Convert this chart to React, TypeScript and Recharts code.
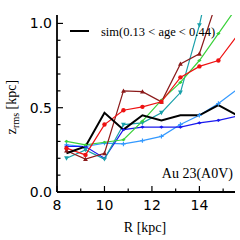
import { LineChart, Line, XAxis, YAxis } from "recharts";

// radial bins [kpc]
const radius = [8.4, 9.2, 10.0, 10.8, 11.6, 12.4, 13.2, 14.0, 14.8, 15.6];

// z_rms [kpc] per population
const simAll = [0.23, 0.27, 0.47, 0.37, 0.455, 0.425, 0.455, 0.455, 0.515, 0.455];
const popRed = [0.26, 0.22, 0.4, 0.485, 0.505, 0.535, 0.68, 0.745, 0.78, 0.93];
const popBrown = [0.245, 0.195, 0.23, 0.6, 0.595, 0.535, 0.76, 0.82, 1.16, 1.4];
const popGreen = [0.3, 0.28, 0.295, 0.31, 0.42, 0.545, 0.65, 0.78, 0.94, 1.1];
const popTeal = [0.2, 0.25, 0.195, 0.4, 0.41, 0.47, 0.59, 0.99, 1.5, 1.6];
const popSky = [0.28, 0.27, 0.29, 0.285, 0.305, 0.33, 0.4, 0.455, 0.525, 0.61];
const popBlue = [0.27, 0.27, 0.2, 0.37, 0.385, 0.385, 0.385, 0.41, 0.425, 0.45];

const xTicks = [8, 9, 10, 11, 12, 13, 14, 15];
const xMajor = [8, 10, 12, 14];
const yTicks = [0, 0.1, 0.2, 0.3, 0.4, 0.5, 0.6, 0.7, 0.8, 0.9, 1.0];
const yMajor = [0, 0.5, 1.0];

const data = radius.map((r, i) => ({
  r,
  all: simAll[i],
  red: popRed[i],
  brown: popBrown[i],
  green: popGreen[i],
  teal: popTeal[i],
  sky: popSky[i],
  blue: popBlue[i],
}));

const tickFont = { fontFamily: "DejaVu Sans", fontSize: 14, fill: "#000" };
const serif = "Liberation Serif";

const isMajor = (v: number, list: number[]) =>
  list.some((m) => Math.abs(m - v) < 1e-6);

function makeTick(side: "bottom" | "left" | "top" | "right", label: boolean) {
  return (props: any) => {
    const { x, y, payload } = props;
    const v = payload.value;
    const major = isMajor(v, side === "bottom" || side === "top" ? xMajor : yMajor);
    const len = major ? 6 : 3.5;
    let line;
    if (side === "bottom") line = <line x1={x} y1={y} x2={x} y2={y - len} />;
    else if (side === "top") line = <line x1={x} y1={y} x2={x} y2={y + len} />;
    else if (side === "left") line = <line x1={x} y1={y} x2={x + len} y2={y} />;
    else line = <line x1={x} y1={y} x2={x - len} y2={y} />;
    return (
      <g stroke="#000" strokeWidth={1.2}>
        {line}
        {label && major && side === "bottom" && (
          <text x={x} y={y + 18} textAnchor="middle" stroke="none" {...tickFont}>
            {v}
          </text>
        )}
        {label && major && side === "left" && (
          <text
            x={x - 5}
            y={y + 5}
            textAnchor="end"
            stroke="none"
            {...tickFont}
          >
            {v.toFixed(1)}
          </text>
        )}
      </g>
    );
  };
}

const dotCircle = (color: string) => (p: any) => (
  <circle key={p.key} cx={p.cx} cy={p.cy} r={2.2} fill={color} stroke="none" />
);
const dotTri = (color: string, down: boolean) => (p: any) => {
  const s = 2.4;
  const d = down ? -1 : 1;
  return (
    <path
      key={p.key}
      d={`M${p.cx},${p.cy - d * s} L${p.cx + s},${p.cy + d * s * 0.8} L${p.cx - s},${p.cy + d * s * 0.8} Z`}
      fill={color}
      stroke="none"
    />
  );
};
const dotPlus = (color: string) => (p: any) => (
  <path
    key={p.key}
    d={`M${p.cx - 2.2},${p.cy} H${p.cx + 2.2} M${p.cx},${p.cy - 2.2} V${p.cy + 2.2}`}
    stroke={color}
    strokeWidth={1.2}
    fill="none"
  />
);
const dotDiamond = (color: string) => (p: any) => (
  <path
    key={p.key}
    d={`M${p.cx - 2.2},${p.cy} L${p.cx},${p.cy - 1.6} L${p.cx + 2.2},${p.cy} L${p.cx},${p.cy + 1.6} Z`}
    fill={color}
    stroke="none"
  />
);

export default function App() {
  return (
    <div
      style={{
        position: "absolute",
        left: 0,
        top: 0,
        width: 240,
        height: 240,
        background: "#fff",
      }}
    >
      <LineChart
        width={240}
        height={240}
        data={data}
        margin={{ top: 15, right: 5, bottom: 0, left: 0 }}
      >
        <XAxis
          xAxisId="b"
          dataKey="r"
          type="number"
          domain={[8, 15.5]}
          allowDataOverflow
          ticks={xTicks}
          interval={0}
          height={48}
          tickSize={0}
          tickMargin={0}
          axisLine={{ stroke: "#000", strokeWidth: 1.8 }}
          tickLine={false}
          tick={makeTick("bottom", true)}
        />
        <XAxis
          xAxisId="t"
          orientation="top"
          dataKey="r"
          type="number"
          domain={[8, 15.5]}
          allowDataOverflow
          ticks={xTicks}
          interval={0}
          height={0}
          tickSize={0}
          tickMargin={0}
          axisLine={{ stroke: "#000", strokeWidth: 1.8 }}
          tickLine={false}
          tick={makeTick("top", false)}
        />
        <YAxis
          yAxisId="l"
          type="number"
          domain={[0, 1.05]}
          allowDataOverflow
          ticks={yTicks}
          interval={0}
          width={57}
          tickSize={0}
          tickMargin={0}
          axisLine={{ stroke: "#000", strokeWidth: 1.8 }}
          tickLine={false}
          tick={makeTick("left", true)}
        />
        <YAxis
          yAxisId="rt"
          orientation="right"
          type="number"
          domain={[0, 1.05]}
          allowDataOverflow
          ticks={yTicks}
          interval={0}
          width={0}
          tickSize={0}
          tickMargin={0}
          axisLine={{ stroke: "#000", strokeWidth: 1.8 }}
          tickLine={false}
          tick={makeTick("right", false)}
        />
        <Line xAxisId="b" yAxisId="l" dataKey="sky" stroke="#3399ff" strokeWidth={1.2} dot={dotPlus("#3399ff")} isAnimationActive={false} />
        <Line xAxisId="b" yAxisId="l" dataKey="blue" stroke="#1a1aee" strokeWidth={1.2} dot={dotDiamond("#1a1aee")} isAnimationActive={false} />
        <Line xAxisId="b" yAxisId="l" dataKey="teal" stroke="#1aa0aa" strokeWidth={1.2} dot={dotTri("#1aa0aa", true)} isAnimationActive={false} />
        <Line xAxisId="b" yAxisId="l" dataKey="green" stroke="#3ad13a" strokeWidth={1.2} dot={dotDiamond("#3ad13a")} isAnimationActive={false} />
        <Line xAxisId="b" yAxisId="l" dataKey="brown" stroke="#8b1a1a" strokeWidth={1.2} dot={dotTri("#8b1a1a", false)} isAnimationActive={false} />
        <Line xAxisId="b" yAxisId="l" dataKey="red" stroke="#ee1111" strokeWidth={1.2} dot={dotCircle("#ee1111")} isAnimationActive={false} />
        <Line xAxisId="b" yAxisId="l" dataKey="all" stroke="#000" strokeWidth={2} dot={false} isAnimationActive={false} />
      </LineChart>
      <svg
        width={240}
        height={240}
        style={{ position: "absolute", left: 0, top: 0, pointerEvents: "none" }}
      >
        <line x1={70} y1={31} x2={89} y2={31} stroke="#000" strokeWidth={2} />
        <text x={101} y={36} fontFamily={serif} fontSize={12.5} fill="#000">
          sim(0.13 &lt; age &lt; 0.44)
        </text>
        <text x={233} y={178} textAnchor="end" fontFamily={serif} fontSize={14} fill="#000">
          Au 23(A0V)
        </text>
        <text x={145} y={232} textAnchor="middle" fontFamily={serif} fontSize={14} fill="#000">
          R [kpc]
        </text>
        <text
          transform="translate(16,107) rotate(-90)"
          textAnchor="middle"
          fontFamily={serif}
          fontSize={14}
          fill="#000"
        >
          z
          <tspan fontSize={10} dy={3}>
            rms
          </tspan>
          <tspan dy={-3}> [kpc]</tspan>
        </text>
      </svg>
    </div>
  );
}
